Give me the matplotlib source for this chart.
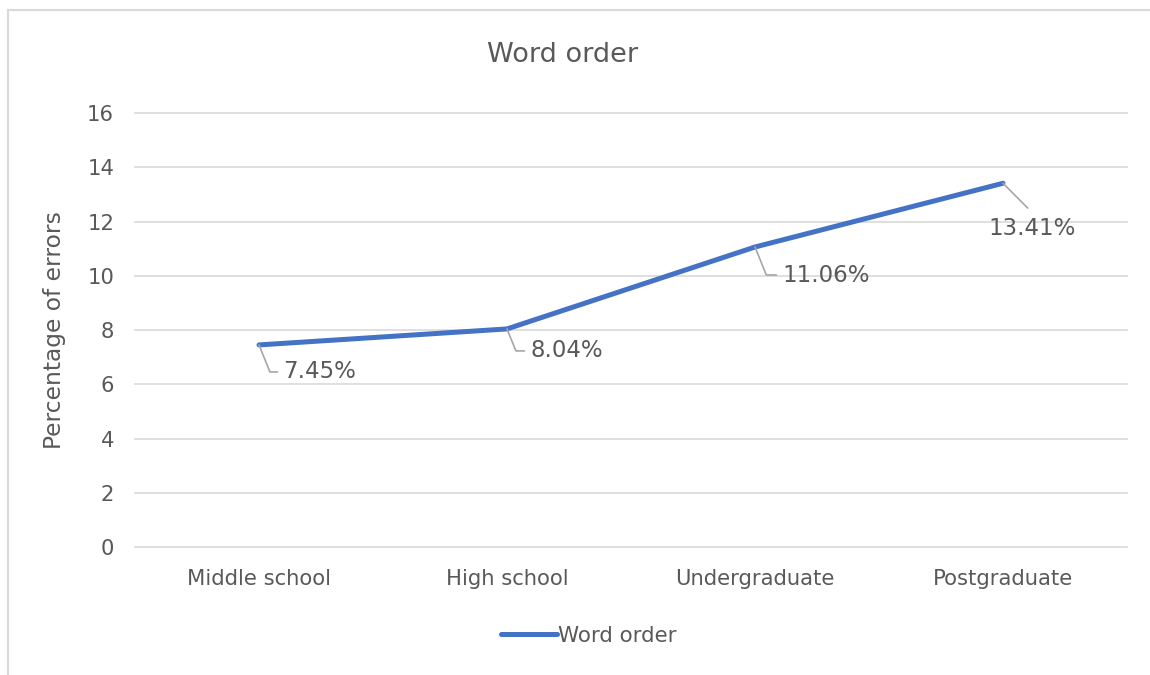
import matplotlib
matplotlib.use("Agg")
import matplotlib.pyplot as plt
from matplotlib.patches import Rectangle

# data
categories = ["Middle school", "High school", "Undergraduate", "Postgraduate"]
values = [7.45, 8.04, 11.06, 13.41]
labels = ["7.45%", "8.04%", "11.06%", "13.41%"]
yticks = [0, 2, 4, 6, 8, 10, 12, 14, 16]

TXT = "#595959"
BLUE = "#4472C4"
GRID = "#D9D9D9"

plt.rcParams['font.family'] = ['DejaVu Sans']

fig = plt.figure(figsize=(11.5, 6.75), dpi=100)
ax = fig.add_axes([0.1174, 0.1896, 0.8626, 0.643])

x = list(range(len(categories)))
ax.plot(x, values, color=BLUE, lw=3.6, solid_capstyle='round', label="Word order", zorder=3)
ax.set_xlim(-0.5, 3.5)
ax.set_ylim(0, 16)
ax.set_yticks(yticks)
ax.set_xticks(x)
ax.set_xticklabels(categories)
ax.grid(axis='y', color=GRID, lw=1.2)
for gl in ax.get_ygridlines():
    gl.set_clip_on(False)
ax.set_axisbelow(True)
for s in ax.spines.values():
    s.set_visible(False)
ax.tick_params(length=0, labelsize=15.2, colors=TXT, pad=15)
ax.tick_params(axis='x', pad=16)
ax.set_ylabel("Percentage of errors", fontsize=16.8, color=TXT, labelpad=15)

# data labels with leader lines (offsets in pixels)
offs = [(24, -27), (23, -22), (27, -28), (29, -45)]
for i, (v, lab) in enumerate(zip(values, labels)):
    dx, dy = offs[i]
    if i < 3:
        ap = dict(arrowstyle='-', color='#A6A6A6', lw=1.2, shrinkA=2, shrinkB=0,
                  relpos=(0, 0.5), connectionstyle="angle,angleA=0,angleB=-68,rad=0")
        ax.annotate(lab, (i, v), xytext=(dx, dy), textcoords='offset pixels',
                    ha='left', va='center', fontsize=16.5, color=TXT, arrowprops=ap)
    else:
        ap = dict(arrowstyle='-', color='#A6A6A6', lw=1.2, shrinkA=6, shrinkB=0,
                  relpos=(0.55, 1))
        ax.annotate(lab, (i, v), xytext=(dx, dy), textcoords='offset pixels',
                    ha='center', va='center', fontsize=16.5, color=TXT, arrowprops=ap)

fig.text(0.489, 0.918, "Word order", ha='center', va='center', fontsize=19.5, color=TXT)

leg = fig.legend(loc='center', bbox_to_anchor=(0.512, 0.058), frameon=False,
                 fontsize=15.4, handlelength=2.6, handletextpad=0.05)
for t in leg.get_texts():
    t.set_color(TXT)

fig.patches.append(Rectangle((8 / 1150, -0.1), 1.2, 1 - 10 / 675 + 0.1, transform=fig.transFigure,
                             fill=False, edgecolor=GRID, lw=1.5))

fig.savefig("out.png", dpi=100)
